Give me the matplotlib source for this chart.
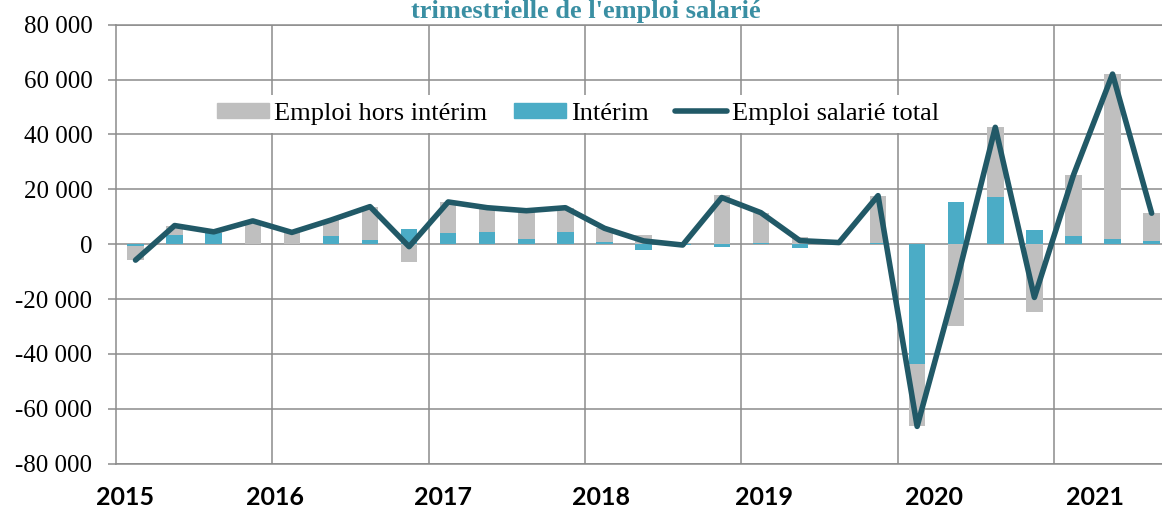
import numpy as np
import matplotlib.pyplot as plt
from matplotlib.ticker import FuncFormatter, FixedLocator
from matplotlib.patches import Patch
from matplotlib.lines import Line2D

# Trimestres 2015T1 -> 2021T3
trimestres = ['2015T1', '2015T2', '2015T3', '2015T4',
              '2016T1', '2016T2', '2016T3', '2016T4',
              '2017T1', '2017T2', '2017T3', '2017T4',
              '2018T1', '2018T2', '2018T3', '2018T4',
              '2019T1', '2019T2', '2019T3', '2019T4',
              '2020T1', '2020T2', '2020T3', '2020T4',
              '2021T1', '2021T2', '2021T3']

# Intérim (bas de la pile)
interim = [-700, 3200, 3900, 200,
           0, 2900, 1500, 5500,
           3900, 4500, 1800, 4500,
           800, -2100, -300, -900,
           500, -1500, 200, 600,
           -43600, 15500, 17300, 5200,
           3000, 2000, 1000]

# Emploi hors intérim
hors_interim = [-5100, 3600, 600, 8300,
                4300, 5900, 12200, -6400,
                11500, 8800, 10400, 8800,
                5000, 3300, 0, 17900,
                11000, 2800, 400, 17100,
                -22800, -29800, 25300, -24600,
                22200, 60000, 10300]

# Emploi salarié total
total = [-5800, 6800, 4500, 8500,
         4300, 8800, 13700, -900,
         15400, 13300, 12200, 13300,
         5800, 1200, -300, 17000,
         11500, 1300, 600, 17700,
         -66400, -14300, 42600, -19400,
         25200, 62000, 11300]

annees = ['2015', '2016', '2017', '2018', '2019', '2020', '2021']
pos_annees = [-0.26, 3.57, 7.88, 11.91, 16.09, 20.42, 24.55]

GRIS = '#bfbfbf'
BLEU = '#4bacc6'
TRAIT = '#215967'
GRILLE = '#8c8c8c'

plt.rcParams['font.family'] = ['Liberation Serif', 'DejaVu Serif']

fig = plt.figure(figsize=(11.62, 5.09), dpi=100)
ax = fig.add_axes([116 / 1162, 1 - 463.7 / 509, 1 - 116 / 1162, (463.7 - 24.7) / 509])

x = np.arange(len(trimestres))
interim = np.array(interim)
hors_interim = np.array(hors_interim)
bas_gris = np.where(np.sign(hors_interim) == np.sign(interim), interim, 0)

largeur = 0.42
ax.bar(x, interim, largeur, color=BLEU, zorder=2)
ax.bar(x, hors_interim, largeur, bottom=bas_gris, color=GRIS, zorder=2)
ax.plot(x, total, color=TRAIT, lw=4, solid_capstyle='round',
        solid_joinstyle='round', zorder=3)

ax.set_xlim(-0.5, -0.5 + (1162 - 116) / 39.08)
ax.set_ylim(-80000, 80000)
ax.set_yticks(np.arange(-80000, 80001, 20000))
ax.yaxis.set_major_formatter(FuncFormatter(lambda v, p: f'{int(v):,}'.replace(',', ' ')))

ax.set_xticks(pos_annees)
ax.set_xticklabels(annees, fontfamily='Lato', fontweight='bold', fontsize=18)
ax.xaxis.set_minor_locator(FixedLocator(np.arange(3.5, 27, 4)))
ax.tick_params(axis='x', which='both', length=0, pad=16)
ax.tick_params(axis='y', length=6, width=1.1, color=GRILLE, pad=11, labelsize=18)

ax.grid(axis='y', color=GRILLE, lw=1.1, zorder=0)
ax.grid(axis='x', which='minor', color=GRILLE, lw=1.1, zorder=0)
ax.set_axisbelow(True)
for s in ['left', 'bottom', 'top']:
    ax.spines[s].set_color(GRILLE)
    ax.spines[s].set_linewidth(1.1)
ax.spines['right'].set_visible(False)

poignees = [Patch(color=GRIS), Patch(color=BLEU), Line2D([], [], color=TRAIT, lw=4, solid_capstyle='round')]
leg = ax.legend(poignees, ['Emploi hors intérim', 'Intérim', 'Emploi salarié total'],
                loc='center', bbox_to_anchor=(0.442, 0.797), ncol=3, fontsize=19,
                frameon=True, framealpha=1, edgecolor='none', fancybox=False,
                handlelength=1.97, handleheight=0.49, handletextpad=0.2,
                columnspacing=1.0, borderpad=0.3)
leg.set_zorder(5)

fig.text(586 / 1162, 1 - 18 / 509, "trimestrielle de l'emploi salarié", ha='center',
         va='baseline', fontsize=19, fontweight='bold', color='#3a8fa3')

fig.savefig('out.png', dpi=100)
